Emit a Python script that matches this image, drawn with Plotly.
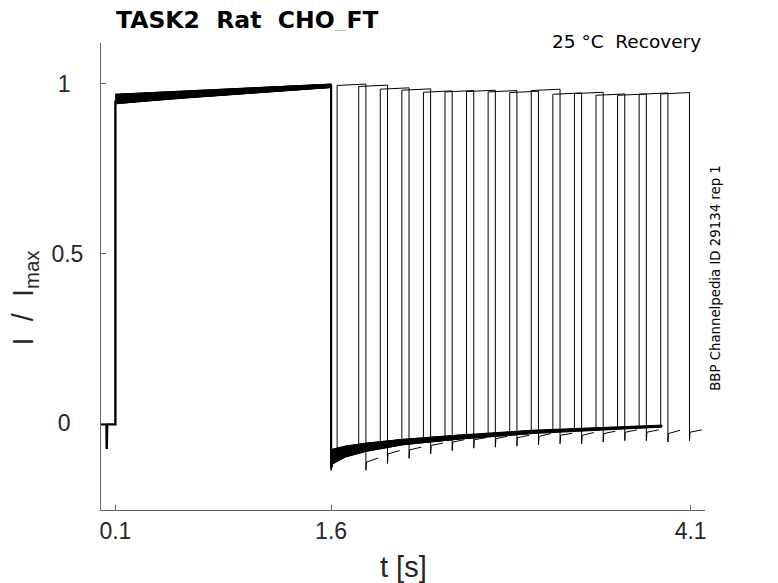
import plotly.graph_objects as go

# second-pulse timing per sweep (s)
p2_start = [1.642, 1.792, 1.942, 2.092, 2.242, 2.392, 2.542, 2.692,
            2.842, 2.992, 3.142, 3.292, 3.442, 3.592, 3.742, 3.892]
p2_end = [1.842, 1.992, 2.142, 2.292, 2.442, 2.592, 2.742, 2.892,
          3.042, 3.192, 3.342, 3.492, 3.642, 3.792, 3.942, 4.092]

# level right before the second pulse, top of second pulse
rec_end = [-0.090, -0.075, -0.066, -0.056, -0.050, -0.044, -0.039, -0.034,
           -0.030, -0.025, -0.022, -0.019, -0.016, -0.014, -0.011, -0.008]
top_start = [0.995, 0.992, 0.984, 0.981, 0.975, 0.976, 0.977, 0.976,
             0.974, 0.980, 0.969, 0.971, 0.966, 0.966, 0.969, 0.970]
top_end = [0.999, 0.996, 0.988, 0.985, 0.979, 0.980, 0.981, 0.980,
           0.978, 0.984, 0.973, 0.975, 0.970, 0.970, 0.973, 0.974]

# tail after second pulse
tail_min = [-0.138, -0.118, -0.103, -0.090, -0.080, -0.073, -0.070, -0.067,
            -0.063, -0.060, -0.060, -0.055, -0.051, -0.051, -0.055, -0.051]
tail_start = [-0.114, -0.090, -0.078, -0.065, -0.055, -0.048, -0.045, -0.042,
              -0.038, -0.035, -0.035, -0.030, -0.026, -0.026, -0.030, -0.026]
tail_end = [-0.102, -0.080, -0.070, -0.058, -0.048, -0.042, -0.038, -0.035,
            -0.030, -0.029, -0.027, -0.023, -0.019, -0.019, -0.020, -0.019]
tail_len = 0.085

# sweep-to-sweep spread inside the bands (fraction of half width)
spread = [-1.0, 0.6, -0.4, 0.9, -0.8, 0.2, -0.1, 1.0,
          -0.6, 0.4, -0.95, 0.75, -0.25, 0.1, 0.5, -0.5]

# holding baseline with capacitive spike, then step to first pulse
base_t = [0.0, 0.038, 0.040, 0.043, 0.1, 0.1]
base_y = [-0.003, -0.003, -0.075, -0.003, -0.003, 0.95]

# first pulse band
p1_t = [0.1, 0.3, 0.6, 0.9, 1.2, 1.6]
p1_mid = [0.955, 0.961, 0.969, 0.976, 0.984, 0.994]
p1_hw = [0.014, 0.012, 0.010, 0.008, 0.007, 0.005]

# recovery band after first pulse
rec_t = [1.6, 1.61, 1.7, 1.85, 2.1, 2.5, 3.0, 3.5, 3.9]
rec_mid = [-0.118, -0.098, -0.083, -0.070, -0.055, -0.040, -0.025, -0.015, -0.008]
rec_hw = [0.020, 0.022, 0.016, 0.012, 0.008, 0.006, 0.005, 0.004, 0.003]

# common drop at end of first pulse
drop_t = [1.6, 1.6]
drop_y = [0.996, -0.13]

x_ticks = [0.1, 1.6, 4.1]
y_ticks = [0, 0.5, 1]
y_ticktext = ['0&nbsp;&nbsp;', '0.5', '1&nbsp;&nbsp;']

fig = go.Figure()


def band(ts, mid, hw):
    up = [m + h for m, h in zip(mid, hw)]
    lo = [m - h for m, h in zip(mid, hw)]
    return go.Scatter(x=ts + ts[::-1], y=up + lo[::-1], mode='lines', fill='toself',
                      fillcolor='black', line=dict(color='black', width=1),
                      showlegend=False, hoverinfo='skip')


fig.add_trace(band(p1_t, p1_mid, p1_hw))
fig.add_trace(band(rec_t, rec_mid, rec_hw))

for i in range(len(p2_start)):
    f = spread[i]
    xs, ys = [], []
    for t, m, h in zip(p1_t, p1_mid, p1_hw):
        xs.append(t)
        ys.append(m + f * h)
    for t, m, h in zip(rec_t, rec_mid, rec_hw):
        if t < p2_start[i]:
            xs.append(t)
            ys.append(m + f * h)
    xs += [p2_start[i], p2_start[i], p2_end[i], p2_end[i], p2_end[i] + 0.004, p2_end[i] + tail_len]
    ys += [rec_end[i], top_start[i], top_end[i], tail_min[i], tail_start[i], tail_end[i]]
    fig.add_trace(go.Scatter(
        x=xs, y=ys, mode='lines',
        line=dict(color='black', width=1),
        showlegend=False, hoverinfo='skip'
    ))

fig.add_trace(go.Scatter(x=base_t, y=base_y, mode='lines',
                         line=dict(color='black', width=2.4),
                         showlegend=False, hoverinfo='skip'))
fig.add_trace(go.Scatter(x=drop_t, y=drop_y, mode='lines',
                         line=dict(color='black', width=2.2),
                         showlegend=False, hoverinfo='skip'))

axis_font = dict(family='Liberation Sans', size=23, color='#262626')

fig.update_layout(
    width=770, height=575,
    margin=dict(l=93, r=73, t=35, b=73),
    plot_bgcolor='white', paper_bgcolor='white',
    xaxis=dict(
        range=[0, 4.2], tickvals=x_ticks, ticktext=[str(v) for v in x_ticks],
        showgrid=False, zeroline=False, showline=True, linecolor='#666', linewidth=1,
        ticks='inside', ticklen=5, tickcolor='#666', tickfont=axis_font,
        ticklabelstandoff=0
    ),
    yaxis=dict(
        range=[-0.255, 1.12], tickvals=y_ticks, ticktext=y_ticktext,
        showgrid=False, zeroline=False, showline=True, linecolor='#666', linewidth=1,
        ticks='inside', ticklen=5, tickcolor='#666', tickfont=axis_font,
        ticklabelstandoff=12
    ),
    annotations=[
        dict(text='<b>TASK2&nbsp;&nbsp;Rat&nbsp;&nbsp;CHO_FT</b>', xref='paper', yref='paper',
             x=0.023, y=1.05, xanchor='left', yanchor='middle', showarrow=False,
             height=22, borderpad=0,
             font=dict(family='DejaVu Sans', size=23.5, color='black')),
        dict(text='25 °C&nbsp;&nbsp;Recovery', xref='paper', yref='paper',
             x=0.997, y=1.004, xanchor='right', yanchor='middle', showarrow=False,
             font=dict(family='DejaVu Sans', size=18.5, color='black')),
        dict(text='BBP Channelpedia ID 29134 rep 1', xref='paper', yref='paper',
             x=1.018, y=0.497, xanchor='center', yanchor='middle', textangle=-90,
             showarrow=False, font=dict(family='DejaVu Sans', size=13.3, color='black')),
        dict(text='t [s]', xref='paper', yref='paper',
             x=0.5, y=-0.122, xanchor='center', yanchor='middle', showarrow=False,
             font=dict(family='Liberation Sans', size=29, color='#262626')),
        dict(text='I&nbsp;&nbsp;/&nbsp;&nbsp;I<sub>max</sub>', xref='paper', yref='paper',
             x=-0.126, y=0.455, xanchor='center', yanchor='middle', textangle=-90,
             showarrow=False, font=dict(family='Liberation Sans', size=29, color='#262626')),
    ]
)

fig.write_html("out.html")
